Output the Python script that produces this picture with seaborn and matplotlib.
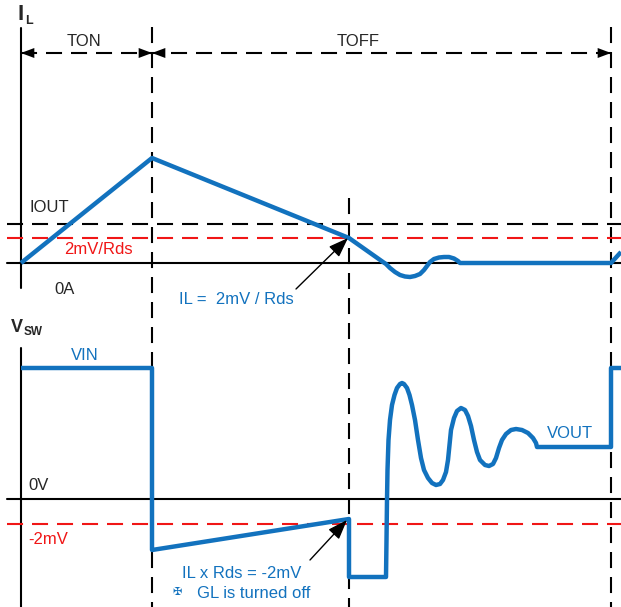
import matplotlib
matplotlib.use("Agg")
import matplotlib.pyplot as plt
from matplotlib import font_manager
import seaborn as sns
import pandas as pd

# ---- waveform data (horizontal = time, vertical = drawing level, top-down) ----
# Inductor current I_L over one switching period
il_t = [21, 152, 349, 383, 386, 390, 395, 400, 405, 410, 415, 420, 424, 427, 430,
        434, 439, 444, 449, 454, 458, 460, 611, 621]
il_y = [263, 158, 238, 262, 264, 268, 272, 275, 276.5, 277, 276, 274, 270, 266, 262,
        259, 257.5, 257, 257, 258.5, 261, 263, 263, 252]

# Switch-node voltage V_SW with ringing after the low-side gate turns off
sw_t = [21, 152, 152, 349, 349, 386, 386.5, 387, 387.5, 388.5, 390, 392, 394.5, 397,
        400, 402, 404, 407, 409.5, 412, 415, 418, 421, 424, 428, 432, 436, 440, 443,
        446, 448, 449.5, 451, 454, 457, 461, 465, 468, 471, 474, 477, 480, 485, 489,
        493, 496, 499, 502, 506, 511, 516, 522, 528, 533, 536, 537, 611, 611, 621]
sw_y = [368, 368, 550, 519, 577, 577, 540, 500, 470, 440, 420, 405, 395, 388,
        384, 383, 384, 388, 395, 405, 420, 440, 458, 470, 478, 483, 485, 484, 480,
        472, 460, 445, 430, 418, 411, 408, 410, 416, 426, 440, 452, 460, 465, 466,
        464, 458, 448, 440, 434, 430, 429, 430, 433, 438, 443, 447, 447, 368, 368]

# timing markers
t_start, t_on_end, t_cross, t_period = 21, 152, 349, 611
x_left, x_right = 7, 621

# reference levels
il_zero, il_out, il_thresh = 263, 224, 238
sw_zero, sw_thresh = 499, 524
span_y = 53

BLUE = "#1272BE"
RED = "#F01616"

sns.set_style("white")
avail = {f.name for f in font_manager.fontManager.ttflist}
FONT = "Liberation Sans Narrow" if "Liberation Sans Narrow" in avail else "Liberation Sans"
plt.rcParams["font.family"] = [FONT, "DejaVu Sans"]

fig = plt.figure(figsize=(6.21, 6.07), dpi=100)
ax = fig.add_axes([0, 0, 1, 1])

DASH = (7.7, 4.3)

# axes of the two plots
ax.plot([t_start, t_start], [28, 288], color="k", lw=1.5)
ax.plot([t_start, t_start], [348, 607], color="k", lw=1.5)

# vertical timing guides
for xv, y0 in [(t_on_end, 27), (t_cross, 198), (t_period, 27)]:
    ax.plot([xv, xv], [y0, 607], color="k", lw=1.5, dashes=DASH)

# reference levels
ax.plot([x_left, x_right], [il_zero, il_zero], color="k", lw=1.5)
ax.plot([x_left, x_right], [il_out, il_out], color="k", lw=1.5, dashes=DASH)
ax.plot([x_left, x_right], [il_thresh, il_thresh], color=RED, lw=1.5, dashes=DASH)
ax.plot([x_left, x_right], [sw_zero, sw_zero], color="k", lw=1.5)
ax.plot([x_left, x_right], [sw_thresh, sw_thresh], color=RED, lw=1.5, dashes=DASH)

# TON / TOFF spans
ax.plot([t_start, t_period], [span_y, span_y], color="k", lw=1.5, dashes=DASH)
head = dict(arrowstyle="-|>,head_length=0.8,head_width=0.3", mutation_scale=12,
            color="k", lw=0, shrinkA=0, shrinkB=0)
for tip, tail in [(t_start, t_start + 14), (t_on_end, t_on_end - 14),
                  (t_on_end, t_on_end + 14), (t_period, t_period - 14)]:
    ax.annotate("", xy=(tip, span_y), xytext=(tail, span_y), arrowprops=head)

# waveforms
df_il = pd.DataFrame({"t": il_t, "v": il_y})
df_sw = pd.DataFrame({"t": sw_t, "v": sw_y})
for d in (df_il, df_sw):
    sns.lineplot(data=d, x="t", y="v", sort=False, estimator=None, ax=ax,
                 color=BLUE, lw=3.2, solid_joinstyle="round", solid_capstyle="butt")
ax.set_xlim(0, 621)
ax.set_ylim(607, 0)
ax.axis("off")

# callout arrows
call = dict(arrowstyle="-|>,head_length=1.1,head_width=0.4", mutation_scale=11,
            color="k", lw=1.0, shrinkA=0, shrinkB=0)
ax.annotate("", xy=(348, 238), xytext=(296, 289), arrowprops=call)
ax.annotate("", xy=(347, 520), xytext=(310, 560), arrowprops=call)

fs = 12
ax.text(21, 15, "I", fontsize=16, fontweight="bold", ha="center", va="center",
        family=["Liberation Sans", "DejaVu Sans"])
ax.text(29, 21, "L", fontsize=9, fontweight="bold", ha="center", va="center",
        family=["Liberation Sans", "DejaVu Sans"])
ax.text(17, 328, "V", fontsize=13, fontweight="bold", ha="center", va="center",
        family=["Liberation Sans", "DejaVu Sans"])
ax.text(33, 332, "SW", fontsize=8.5, fontweight="bold", ha="center", va="center",
        family=["Liberation Sans", "DejaVu Sans"])

ax.text(84, 41, "TON", fontsize=fs, ha="center", va="center")
ax.text(358, 41, "TOFF", fontsize=fs, ha="center", va="center")
ax.text(49, 207, "IOUT", fontsize=fs, ha="center", va="center")
ax.text(98, 250, "2mV/Rds", fontsize=fs, ha="center", va="center", color=RED)
ax.text(65, 290, "0A", fontsize=fs, ha="center", va="center")
ax.text(236, 300, "IL =  2mV / Rds", fontsize=fs, ha="center", va="center", color=BLUE)
ax.text(85, 355, "VIN", fontsize=fs, ha="center", va="center", color=BLUE)
ax.text(39, 486, "0V", fontsize=fs, ha="center", va="center")
ax.text(48, 539, "-2mV", fontsize=fs, ha="center", va="center", color=RED)
ax.text(570, 433, "VOUT", fontsize=fs, ha="center", va="center", color=BLUE)
ax.text(242, 573, "IL x Rds = -2mV", fontsize=fs, ha="center", va="center", color=BLUE)
ax.text(177, 592, "\u2720", fontsize=8, ha="center", va="center", color=BLUE,
        family=["DejaVu Sans"])
ax.text(254, 593, "GL is turned off", fontsize=fs, ha="center", va="center", color=BLUE)

fig.savefig("out.png", dpi=100)
